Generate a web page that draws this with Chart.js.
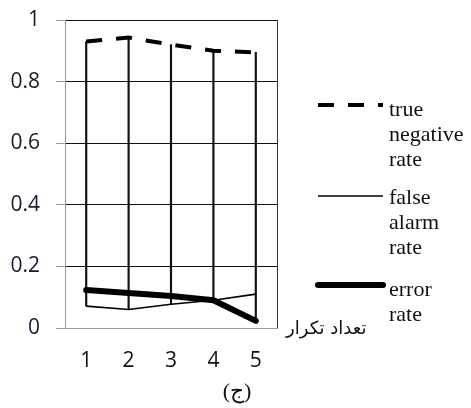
<!DOCTYPE html>
<html>
<head>
<meta charset="utf-8">
<script src="https://cdn.jsdelivr.net/npm/chart.js@4.4.1/dist/chart.umd.min.js"></script>
<style>
  html, body { margin: 0; padding: 0; background: #fff; }
  #wrap { position: relative; width: 471px; height: 408px; }
</style>
</head>
<body>
<div id="wrap"><canvas id="chart" width="471" height="408"></canvas></div>
<script>
// ============================================================
// Data
// ============================================================
const categories = ['1', '2', '3', '4', '5'];
const trueNegative = [0.93, 0.943, 0.92, 0.90, 0.895];
const falseAlarm = [0.071, 0.06, 0.077, 0.09, 0.11];
const errorRate = [0.123, 0.114, 0.104, 0.09, 0.023];
const yTicks = [0, 0.2, 0.4, 0.6, 0.8, 1];

const legendLines = [
  ['true', 'negative', 'rate'],
  ['false', 'alarm', 'rate'],
  ['error', 'rate'],
];
const xAxisName = 'تعداد تکرار';
const caption = '(ج)';

// high-low lines: from highest to lowest series value at each category
const highLow = categories.map((c, i) => {
  const vals = [trueNegative[i], falseAlarm[i], errorRate[i]];
  return [Math.min(...vals), Math.max(...vals)];
});

const serifFont = '"Liberation Serif", "Times New Roman", "DejaVu Serif", serif';

// ============================================================
// Plugin: right border, legend, axis name, caption
// ============================================================
const extrasPlugin = {
  id: 'extras',
  afterDraw(chart) {
    const { ctx, chartArea } = chart;
    ctx.save();

    // right frame line
    ctx.strokeStyle = '#333';
    ctx.lineWidth = 1;
    ctx.beginPath();
    ctx.moveTo(Math.round(chartArea.right) + 0.5, chartArea.top);
    ctx.lineTo(Math.round(chartArea.right) + 0.5, chartArea.bottom);
    ctx.stroke();

    // legend
    const sampleY = [105, 196, 285];
    const textY = [110, 198, 290];
    const lineStep = 25;
    const lineDatasets = chart.data.datasets.filter(d => d.type === 'line');
    lineDatasets.forEach((ds, i) => {
      ctx.strokeStyle = ds.borderColor;
      ctx.lineWidth = ds.borderWidth;
      ctx.setLineDash(ds.borderDash || []);
      ctx.lineCap = ds.borderWidth > 5 ? 'round' : 'butt';
      ctx.beginPath();
      ctx.moveTo(318, sampleY[i]);
      ctx.lineTo(383, sampleY[i]);
      ctx.stroke();
      ctx.setLineDash([]);

      ctx.fillStyle = '#111';
      ctx.font = '22px ' + serifFont;
      ctx.textAlign = 'left';
      ctx.textBaseline = 'middle';
      legendLines[i].forEach((t, j) => {
        ctx.fillText(t, 389, textY[i] + j * lineStep);
      });
    });

    // x axis name
    ctx.fillStyle = '#111';
    ctx.font = '18px "DejaVu Sans", serif';
    ctx.textAlign = 'left';
    ctx.textBaseline = 'middle';
    ctx.fillText(xAxisName, 286, 329);

    // caption
    ctx.font = '22px ' + serifFont;
    ctx.textAlign = 'center';
    ctx.fillText(caption, 237, 392);

    ctx.restore();
  }
};

// ============================================================
// Chart
// ============================================================
const ctx = document.getElementById('chart').getContext('2d');
new Chart(ctx, {
  data: {
    labels: categories,
    datasets: [
      {
        type: 'line',
        label: 'true negative rate',
        data: trueNegative,
        borderColor: '#000',
        borderWidth: 4,
        borderDash: [16, 14],
        pointRadius: 0,
        tension: 0,
        fill: false,
        order: 1,
      },
      {
        type: 'line',
        label: 'false alarm rate',
        data: falseAlarm,
        borderColor: '#000',
        borderWidth: 1.6,
        pointRadius: 0,
        tension: 0,
        fill: false,
        order: 2,
      },
      {
        type: 'line',
        label: 'error rate',
        data: errorRate,
        borderColor: '#000',
        borderWidth: 6,
        borderCapStyle: 'round',
        pointRadius: 0,
        tension: 0,
        fill: false,
        order: 0,
      },
      {
        type: 'bar',
        label: 'high-low',
        data: highLow,
        backgroundColor: '#111',
        barThickness: 1.5,
        order: 5,
      },
    ],
  },
  options: {
    responsive: false,
    animation: false,
    layout: { padding: { top: 20, right: 194, bottom: 0, left: 0 } },
    plugins: {
      legend: { display: false },
      tooltip: { enabled: false },
    },
    scales: {
      x: {
        offset: true,
        grid: { display: false, drawTicks: false },
        border: { display: true, color: '#9a9a9a', width: 1 },
        ticks: {
          color: '#111',
          font: { family: '"Open Sans", sans-serif', size: 21 },
          padding: 20,
        },
        afterFit: scale => {
          scale.height = 80;
          scale.paddingLeft = 0;
          scale.paddingRight = 0;
        },
      },
      y: {
        min: 0,
        max: 1,
        afterBuildTicks: scale => {
          scale.ticks = yTicks.map(v => ({ value: v }));
        },
        grid: {
          color: c => (c.tick && c.tick.value === 0 ? '#9a9a9a' : '#111'),
          tickColor: '#9a9a9a',
          tickLength: 9,
        },
        border: { display: true, color: '#9a9a9a', width: 1 },
        ticks: {
          color: '#1a1a2e',
          font: { family: '"Open Sans", sans-serif', size: 21 },
          padding: 16,
          callback: v => String(v),
        },
        afterFit: scale => {
          scale.width = 65;
          scale.paddingTop = 0;
          scale.paddingBottom = 0;
        },
      },
    },
  },
  plugins: [extrasPlugin],
});
</script>
</body>
</html>
